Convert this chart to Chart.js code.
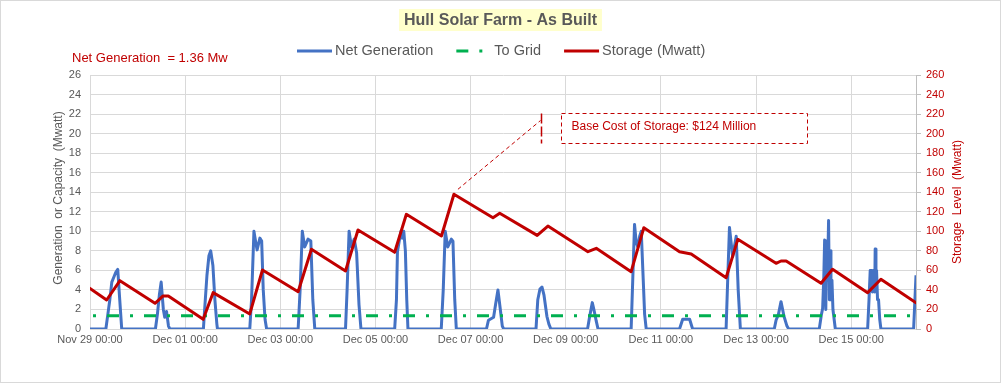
<!DOCTYPE html>
<html><head><meta charset="utf-8">
<script src="https://cdn.jsdelivr.net/npm/chart.js@4.4.1/dist/chart.umd.min.js"></script>
<style>html,body{margin:0;padding:0;background:#fff;}canvas{display:block;}</style>
</head><body>
<canvas id="c" width="1001" height="383"></canvas>
<script>
const TITLE = 'Hull Solar Farm - As Built';
const NET_GENERATION = 1.36;
const LEGEND_LABELS = ['Net Generation', 'To Grid', 'Storage (Mwatt)'];
const LEFT_AXIS_TITLE = 'Generation  or Capacity  (Mwatt)';
const RIGHT_AXIS_TITLE = 'Storage  Level  (Mwatt)';
const CALLOUT_TEXT = 'Base Cost of Storage: $124 Million';
const X_TICK_LABELS = ['Nov 29 00:00','Dec 01 00:00','Dec 03 00:00','Dec 05 00:00','Dec 07 00:00','Dec 09 00:00','Dec 11 00:00','Dec 13 00:00','Dec 15 00:00'];

// hours since Nov 29 00:00
const GEN_HOURS = [0,8,9,10,11,12,13,14,15,16,
  33,34,35,35.9,37,37.7,38.6,39.6,40.3,
  57.2,58,59,60,60.9,62,63,64,64.3,
  80.6,81.5,82.7,83.5,84.3,85.7,86.6,87.4,88.3,89.1,
  105,106,107.1,108.3,110,111.4,112.4,113.4,
  128.9,129.7,130.7,131.9,133.3,134.5,135.7,136.7,
  153.7,154.6,155.1,156,156.9,157.6,158.3,159.1,159.8,160.4,
  177.2,178.2,179.2,180.5,182.3,183.1,184,184.8,
  200,201,203.6,204.6,205.8,207,208,208.7,
  225,225.9,227,228,229,230.5,231.5,232.5,
  251,252,253.4,254.4,255.4,256.3,
  273,273.8,274.7,275.6,276.4,277.3,278.1,279.1,279.8,280.6,
  297.4,299,302.5,304,
  320.9,321.7,322.6,324.2,326,327,328.1,
  345.2,346.1,347.3,348.6,350.1,351.6,352.5,
  367.9,369,369.6,370.2,370.6,370.9,371.2,371.6,372,372.6,373,373.4,373.8,374.3,374.8,375.4,376,
  392.3,393,393.6,394.3,394.7,395.1,395.6,395.9,396.1,396.5,396.8,397.3,397.8,398.4,399,
  415.5,416.7];
const GEN_VALUES = [0,0,1.5,3,4.8,5.3,5.8,6.1,3,0,
  0,1.5,3.5,4.8,2,1.2,1.8,0.3,0,
  0,2.5,5.5,7.5,8,6.5,3,0.5,0,
  0,3,10,9,8.1,9.3,9,4,1,0,
  0,4,10,8.4,9.2,9,3,0,
  0,4,10,8.4,9.2,7.8,2.5,0,
  0,3,7.9,9,10,9.3,10,8,3,0,
  0,4,10,8.4,9.2,9,3,0,
  0,0.9,1.2,2.5,4,2,0.3,0,
  0,3,4.1,4.3,3.5,1.3,0.5,0,
  0,1.2,2.7,1.8,0.8,0,
  0,5,10.7,8.8,8.4,9.5,10,5,1.5,0,
  0,1,1,0,
  0,5,10.4,7.4,9.5,4,0,
  0,0.9,1.5,2.8,1.3,0.3,0,
  0,1.5,2.1,5.4,9.1,5,2,9,5,11.1,3,8,3,5,2,1,0,
  0,3,6,6,3.8,6,6,3.8,8.2,4,6,3,3,1,0,
  0,5.5];

const TO_GRID_HOURS = [0, 416.7];
const TO_GRID_VALUES = [1.36, 1.36];

const STORAGE_HOURS = [0,8.4,15.1,32.8,36.9,39.5,57.1,62.1,80.6,87,105,111.7,128.9,135.2,153.7,159.6,177.3,183.6,203.3,206.7,225.6,231,251.2,255.4,273,279.4,297.4,303.3,320.9,326.8,346.1,348.6,351.2,368.8,374.6,392.3,399,416.7];
const STORAGE_VALUES = [41.6,29.7,49.5,26.3,33.8,33.8,9.9,37.2,15.4,60.4,38.2,81.6,59.4,101.3,78.5,117.4,95.2,137.9,113.9,118.4,95.8,105.4,79.1,82.6,58.7,103.7,79.1,76.8,52.5,91.8,67.2,69.6,69.6,46.8,61.1,37.2,50.9,26.9];

const FONT = '"Liberation Sans", Arial, sans-serif';
const GRAY = '#595959', RED = '#C00000', BLUE = '#4472C4', GREEN = '#00B050';
const GRID_DASH = [12, 11, 3, 11];

function pts(xs, ys) { return xs.map((x, i) => ({x: x, y: ys[i]})); }

const decor = {
  id: 'decor',
  beforeDraw(chart) {
    const ctx = chart.ctx;
    ctx.save(); ctx.fillStyle = '#fff'; ctx.fillRect(0, 0, chart.width, chart.height); ctx.restore();
  },
  afterDraw(chart) {
    const ctx = chart.ctx, ca = chart.chartArea, sx = chart.scales.x, sy1 = chart.scales.y1;
    ctx.save();
    // outer border
    ctx.strokeStyle = '#D9D9D9'; ctx.lineWidth = 1;
    ctx.strokeRect(0.5, 0.5, chart.width - 1, chart.height - 1);
    // title
    ctx.font = 'bold 16px ' + FONT;
    const tw = ctx.measureText(TITLE).width;
    const cx = 500.5;
    ctx.fillStyle = '#FFFFCC';
    ctx.fillRect(cx - tw / 2 - 5, 9, tw + 10, 22);
    ctx.fillStyle = GRAY; ctx.textAlign = 'center'; ctx.textBaseline = 'middle';
    ctx.fillText(TITLE, cx, 21);
    // legend
    ctx.font = '14.5px ' + FONT; ctx.textAlign = 'left';
    let lx = 297; const ly = 51;
    const cols = [BLUE, GREEN, RED];
    LEGEND_LABELS.forEach((lab, i) => {
      ctx.save();
      ctx.beginPath(); ctx.strokeStyle = cols[i]; ctx.lineWidth = 3; ctx.lineCap = 'butt';
      if (i === 1) { ctx.setLineDash(GRID_DASH); }
      ctx.moveTo(lx, ly); ctx.lineTo(lx + 35, ly); ctx.stroke();
      ctx.restore();
      ctx.fillStyle = GRAY;
      ctx.fillText(lab, lx + 38, ly);
      lx += 38 + ctx.measureText(lab).width + 23;
    });
    // net generation note
    ctx.font = '13px ' + FONT; ctx.fillStyle = RED; ctx.textAlign = 'left';
    ctx.fillText('Net Generation  = ' + NET_GENERATION + ' Mw', 72, 58);
    // axis titles
    const cy = (ca.top + ca.bottom) / 2;
    ctx.font = '12px ' + FONT; ctx.textAlign = 'center';
    ctx.save(); ctx.translate(59, cy - 4); ctx.rotate(-Math.PI / 2); ctx.fillStyle = GRAY; ctx.fillText(LEFT_AXIS_TITLE, 0, 0); ctx.restore();
    ctx.save(); ctx.translate(958, cy); ctx.rotate(-Math.PI / 2); ctx.fillStyle = RED; ctx.fillText(RIGHT_AXIS_TITLE, 0, 0); ctx.restore();
    // callout
    let mi = 0; STORAGE_VALUES.forEach((v, i) => { if (v > STORAGE_VALUES[mi]) mi = i; });
    const ax = sx.getPixelForValue(STORAGE_HOURS[mi]) + 4, ay = sy1.getPixelForValue(STORAGE_VALUES[mi]) - 5;
    const barX = Math.round(sx.getPixelForValue(227.3)) + 0.5;
    const boxL = Math.round(sx.getPixelForValue(237.8)) + 0.5, boxR = Math.round(sx.getPixelForValue(361.9)) + 0.5;
    const boxT = Math.round(sy1.getPixelForValue(220.6)) + 0.5, boxB = Math.round(sy1.getPixelForValue(190.9)) + 0.5;
    const endY = sy1.getPixelForValue(213.4);
    ctx.strokeStyle = RED; ctx.lineWidth = 1; ctx.setLineDash([4, 3]);
    ctx.beginPath(); ctx.moveTo(ax, ay); ctx.lineTo(barX - 1, endY); ctx.stroke();
    ctx.lineWidth = 1.5; ctx.setLineDash([10, 3]);
    ctx.beginPath(); ctx.moveTo(barX, boxT); ctx.lineTo(barX, boxB); ctx.stroke();
    ctx.fillStyle = '#fff'; ctx.fillRect(boxL, boxT, boxR - boxL, boxB - boxT);
    ctx.lineWidth = 1; ctx.setLineDash([4, 3]);
    ctx.strokeRect(boxL, boxT, boxR - boxL, boxB - boxT);
    ctx.setLineDash([]);
    ctx.font = '12px ' + FONT; ctx.fillStyle = RED; ctx.textAlign = 'left'; ctx.textBaseline = 'middle';
    ctx.fillText(CALLOUT_TEXT, boxL + 10, (boxT + boxB) / 2 - 2);
    ctx.restore();
  }
};

Chart.defaults.font.family = FONT;
new Chart(document.getElementById('c'), {
  type: 'line',
  data: {
    datasets: [
      {label: LEGEND_LABELS[2], data: pts(STORAGE_HOURS, STORAGE_VALUES), yAxisID: 'y1', borderColor: RED, borderWidth: 3, pointRadius: 0, order: 0, borderJoinStyle: 'round', borderCapStyle: 'round', tension: 0},
      {label: LEGEND_LABELS[1], data: pts(TO_GRID_HOURS, TO_GRID_VALUES), yAxisID: 'y', borderColor: GREEN, borderWidth: 3, borderDash: GRID_DASH, borderDashOffset: 20, pointRadius: 0, order: 1},
      {label: LEGEND_LABELS[0], data: pts(GEN_HOURS, GEN_VALUES), yAxisID: 'y', borderColor: BLUE, borderWidth: 3, pointRadius: 0, order: 2, borderJoinStyle: 'round', tension: 0}
    ]
  },
  options: {
    responsive: false, animation: false, devicePixelRatio: 1,
    layout: {padding: {top: 75, left: 0, right: 0, bottom: 0}},
    plugins: {legend: {display: false}, title: {display: false}, tooltip: {enabled: false}},
    scales: {
      x: {
        type: 'linear', min: 0, max: 416.7,
        ticks: {stepSize: 48, includeBounds: false, autoSkip: false, maxRotation: 0, minRotation: 0, color: GRAY, font: {size: 11}, padding: 4,
          callback: (v) => { const i = v / 48; return Number.isInteger(i) && X_TICK_LABELS[i] ? X_TICK_LABELS[i] : ''; }},
        grid: {color: '#D9D9D9', drawTicks: false},
        border: {color: '#D9D9D9'},
        afterFit(s) { s.height = 54; }
      },
      y: {
        position: 'left', min: 0, max: 26,
        ticks: {stepSize: 2, color: GRAY, font: {size: 11}, padding: 9},
        grid: {color: '#D9D9D9', drawTicks: false},
        border: {color: '#D9D9D9'},
        afterFit(s) { s.width = 90; }
      },
      y1: {
        position: 'right', min: 0, max: 260,
        ticks: {stepSize: 20, color: RED, font: {size: 11}, padding: 5},
        grid: {drawOnChartArea: false, drawTicks: true, tickLength: 5, color: '#BFBFBF'},
        border: {color: '#BFBFBF'},
        afterFit(s) { s.width = 85; }
      }
    }
  },
  plugins: [decor]
});
</script>
</body></html>
